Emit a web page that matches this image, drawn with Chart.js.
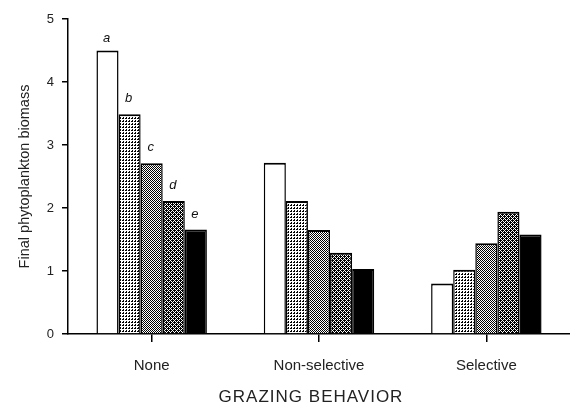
<!DOCTYPE html>
<html>
<head>
<meta charset="utf-8">
<script src="https://cdn.jsdelivr.net/npm/chart.js@4/dist/chart.umd.min.js"></script>
<style>
  html, body { margin: 0; padding: 0; background: #fff; }
  #wrap { width: 570px; height: 405px; position: relative; }
</style>
</head>
<body>
<div id="wrap"><canvas id="chart" width="570" height="405"></canvas></div>
<script>
// --- data ---
const categories = ['None', 'Non-selective', 'Selective'];
const seriesNames = ['a', 'b', 'c', 'd', 'e'];
const seriesA = [4.50, 2.72, 0.80];
const seriesB = [3.49, 2.11, 1.02];
const seriesC = [2.71, 1.65, 1.44];
const seriesD = [2.11, 1.29, 1.94];
const seriesE = [1.66, 1.03, 1.58];
const yTicks = [0, 1, 2, 3, 4, 5];
const xTitle = 'GRAZING BEHAVIOR';
const yTitle = 'Final phytoplankton biomass';

const FONT = '"Liberation Sans", Arial, Helvetica, sans-serif';

// little bitmap tiles for the hatched fills
function makePattern(rows) {
  const c = document.createElement('canvas');
  c.width = rows[0].length;
  c.height = rows.length;
  const ctx = c.getContext('2d');
  ctx.fillStyle = '#fff';
  ctx.fillRect(0, 0, c.width, c.height);
  ctx.fillStyle = '#000';
  rows.forEach((r, y) => {
    for (let x = 0; x < r.length; x++) if (r[x] === '#') ctx.fillRect(x, y, 1, 1);
  });
  return document.getElementById('chart').getContext('2d').createPattern(c, 'repeat');
}

const fills = [
  '#ffffff',
  makePattern(['#..', '#.#', '...']),
  makePattern(['#.', '.#']),
  makePattern(['##.#', '#.#.', '.###', '#.#.']),
  '#000000'
];

const seriesData = [seriesA, seriesB, seriesC, seriesD, seriesE];

const textPlugin = {
  id: 'texts',
  afterDatasetsDraw(chart) {
    const ctx = chart.ctx;
    ctx.save();
    ctx.fillStyle = '#111';
    ctx.font = 'italic 13px ' + FONT;
    ctx.textAlign = 'center';
    ctx.textBaseline = 'bottom';
    seriesNames.forEach((n, i) => {
      const bar = chart.getDatasetMeta(i).data[0];
      ctx.fillText(n, bar.x - 1, bar.y - (i === 0 ? 6 : 9));
    });
    ctx.restore();
  },
  afterDraw(chart) {
    const ctx = chart.ctx;
    const area = chart.chartArea;
    ctx.save();
    ctx.fillStyle = '#222';
    ctx.textAlign = 'center';
    ctx.textBaseline = 'middle';
    ctx.font = '17px ' + FONT;
    ctx.letterSpacing = '1px';
    ctx.fillText(xTitle, 311, 397);
    ctx.letterSpacing = '0px';
    ctx.font = '14.5px ' + FONT;
    ctx.translate(25, (area.top + area.bottom) / 2);
    ctx.rotate(-Math.PI / 2);
    ctx.fillText(yTitle, 0, 0);
    ctx.restore();
  }
};

new Chart(document.getElementById('chart'), {
  type: 'bar',
  data: {
    labels: categories,
    datasets: seriesNames.map((n, i) => ({
      label: n,
      data: seriesData[i],
      backgroundColor: fills[i],
      borderColor: '#000',
      borderWidth: { top: 2, left: 1.5, right: 1.5, bottom: 0 },
      borderSkipped: 'bottom',
      categoryPercentage: 0.66,
      barPercentage: 1.0
    }))
  },
  options: {
    responsive: false,
    animation: false,
    devicePixelRatio: 1,
    layout: { padding: { top: 19, right: 0, left: 0, bottom: 0 } },
    plugins: { legend: { display: false }, tooltip: { enabled: false } },
    scales: {
      x: {
        afterFit(scale) { scale.height = 71; },
        grid: { display: true, offset: false, drawOnChartArea: false, drawTicks: true, tickLength: 8, color: '#000', lineWidth: 1.5 },
        border: { display: true, color: '#000', width: 1.5 },
        ticks: { color: '#222', font: { family: FONT, size: 15 }, padding: 15 }
      },
      y: {
        min: 0,
        max: 5,
        afterFit(scale) { scale.width = 68; },
        afterBuildTicks(scale) { scale.ticks = yTicks.map(v => ({ value: v })); },
        grid: { display: true, drawOnChartArea: false, drawTicks: true, tickLength: 6, color: '#000', lineWidth: 1.5 },
        border: { display: true, color: '#000', width: 1.5 },
        ticks: { color: '#222', font: { family: FONT, size: 13 }, padding: 8 }
      }
    }
  },
  plugins: [textPlugin]
});
</script>
</body>
</html>
